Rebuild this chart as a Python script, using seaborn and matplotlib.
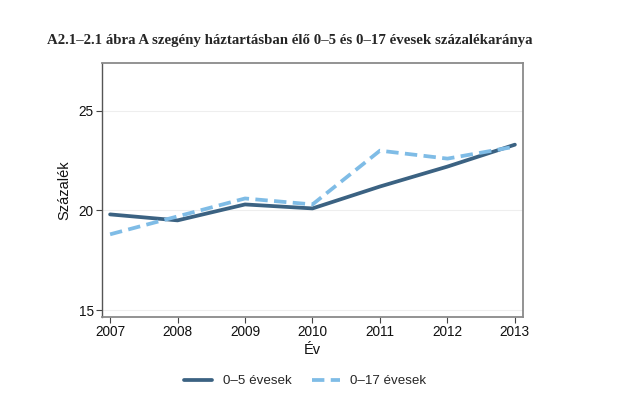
import matplotlib
matplotlib.use("Agg")
import matplotlib.pyplot as plt
import seaborn as sns
import pandas as pd
from matplotlib.lines import Line2D

years = [2007, 2008, 2009, 2010, 2011, 2012, 2013]
age_0_5 = [19.8, 19.5, 20.3, 20.1, 21.2, 22.2, 23.3]
age_0_17 = [18.8, 19.7, 20.6, 20.3, 23.0, 22.6, 23.2]
series_names = ["0–5 évesek", "0–17 évesek"]
y_ticks = [15, 20, 25]

title = "A2.1–2.1 ábra A szegény háztartásban élő 0–5 és 0–17 évesek százalékaránya"

df = pd.DataFrame({
    "Év": years * 2,
    "Százalék": age_0_5 + age_0_17,
    "series": [series_names[0]] * len(years) + [series_names[1]] * len(years),
})

sns.set_theme(style="white")
plt.rcParams["font.family"] = ["Liberation Sans", "DejaVu Sans"]

fig = plt.figure(figsize=(6.32, 3.93), dpi=100)
ax = fig.add_axes([0.1614, 0.1934, 0.8275 - 0.1614, 0.8397 - 0.1934])

palette = {series_names[0]: "#3b6282", series_names[1]: "#7fbce6"}
dash = (3.3, 1.7)
sns.lineplot(data=df, x="Év", y="Százalék", hue="series", style="series",
             palette=palette, dashes={series_names[0]: "", series_names[1]: dash},
             linewidth=2.7, ax=ax, legend=False)

ax.set_xlim(2006.88, 2013.12)
ax.set_ylim(14.65, 27.4)
ax.set_xticks(years)
ax.set_yticks(y_ticks)
ax.tick_params(axis="both", labelsize=9.8, length=4, width=0.8, color="#444444",
               pad=2, bottom=True, left=True, labelcolor="#111111")
for yv in y_ticks:
    ax.axhline(yv, color="#eeeeee", lw=0.8, zorder=0)

for side in ["top", "right", "bottom"]:
    ax.spines[side].set_color("#8a8a8a")
    ax.spines[side].set_linewidth(1.3)
ax.spines["left"].set_color("#555555")
ax.spines["left"].set_linewidth(1.0)

ax.set_xlabel("Év", fontsize=10.5, labelpad=3, color="#111111")
ax.set_ylabel("Százalék", fontsize=10.5, labelpad=5, color="#111111")

handles = [Line2D([0], [0], color=palette[series_names[0]], lw=2.7),
           Line2D([0], [0], color=palette[series_names[1]], lw=2.7, dashes=dash)]
fig.legend(handles, series_names, loc="center", bbox_to_anchor=(0.483, 0.03),
           ncol=2, frameon=False, fontsize=9.6, handlelength=2.1,
           columnspacing=1.5, handletextpad=0.8)

fig.text(0.074, 0.898, title, fontsize=10.7, fontweight="bold",
         family=["Liberation Serif", "DejaVu Serif"], va="center", ha="left")

fig.savefig("out.png", dpi=100, facecolor="white")
